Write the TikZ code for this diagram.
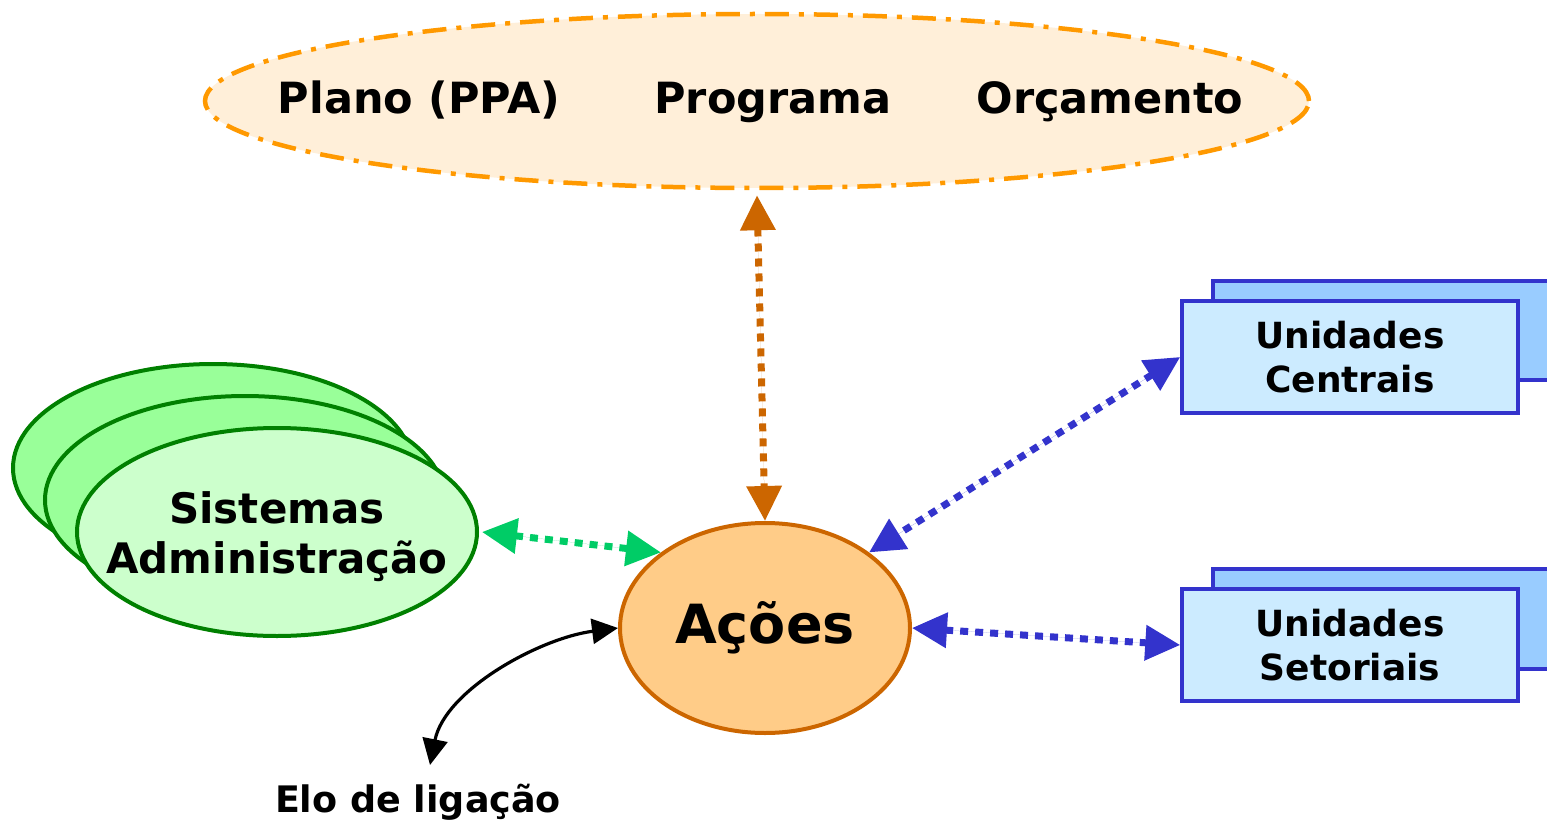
\documentclass[tikz,border=0pt]{standalone}
\usepackage{fontspec}
\setmainfont{DejaVu Sans}
\usetikzlibrary{shapes.geometric,arrows.meta}
\definecolor{ppaorange}{HTML}{FF9900}
\definecolor{ppafill}{HTML}{FFEFD9}
\definecolor{acoesfill}{HTML}{FFCC88}
\definecolor{acoesline}{HTML}{CC6600}
\definecolor{sisline}{HTML}{008000}
\definecolor{sisback}{HTML}{99FF99}
\definecolor{sisfront}{HTML}{CCFFCC}
\definecolor{sisarrow}{HTML}{00CC66}
\definecolor{ublue}{HTML}{3333CC}
\definecolor{ufront}{HTML}{CCEBFF}
\definecolor{ubackfill}{HTML}{99CCFF}
\begin{document}
\begin{tikzpicture}[x=1pt,y=-1pt,
  topell/.style={ellipse, draw=ppaorange, fill=ppafill, line width=4.5pt,
    dash pattern=on 24pt off 10pt on 5pt off 10pt,
    minimum width=1104pt, minimum height=174pt, inner sep=0pt},
  toptxt/.style={anchor=base, font=\fontsize{43}{50}\selectfont\bfseries},
  sisell/.style={ellipse, draw=sisline, line width=4pt,
    minimum width=400pt, minimum height=208pt, inner sep=0pt},
  sistxt/.style={align=center, font=\fontsize{42}{50}\selectfont\bfseries},
  acoesell/.style={ellipse, draw=acoesline, fill=acoesfill, line width=4pt,
    minimum width=290pt, minimum height=210pt, inner sep=0pt,
    font=\fontsize{54}{60}\selectfont\bfseries},
  ubox/.style={rectangle, draw=ublue, fill=ufront, line width=3.5pt,
    minimum width=336pt, minimum height=112pt, inner sep=0pt, align=center,
    font=\fontsize{36}{44}\selectfont\bfseries},
  ubackbox/.style={rectangle, draw=ublue, fill=ubackfill, line width=3.5pt,
    minimum width=400pt, inner sep=0pt},
  dotarrow/.style={line width=7pt, dash pattern=on 8pt off 7pt,
    {Triangle[length=35pt,width=34pt]}-{Triangle[length=35pt,width=34pt]}},
  elotxt/.style={anchor=base, font=\fontsize{36.5}{42}\selectfont\bfseries}
]
\useasboundingbox (0,0) rectangle (1547,821);
\clip (0,0) rectangle (1547,821);

% top ellipse
\node[topell] (ppa) at (757,101) {};
\node[toptxt] (plano) at (419,114) {Plano (PPA)};
\node[toptxt] (programa) at (773,114) {Programa};
\node[toptxt] (orc) at (1110,114) {Orçamento};

% sistemas
\node[sisell, fill=sisback] (sis3) at (213,468) {};
\node[sisell, fill=sisback] (sis2) at (245,500) {};
\node[sisell, fill=sisfront] (sis) at (277,532) {};
\node[sistxt] (sislabel) at (277,537) {Sistemas\\Administração};

% acoes
\node[acoesell] (acoes) at (765,628) {Ações};

% unidades
\node[ubackbox, minimum height=99pt] (cenback) at (1413,330.5) {};
\node[ubox] (cen) at (1350,357) {Unidades\\Centrais};
\node[ubackbox, minimum height=100pt] (setback) at (1413,619) {};
\node[ubox] (set) at (1350,645) {Unidades\\Setoriais};

% elo
\node[elotxt] (elo) at (418,812) {Elo de ligação};
\coordinate (eloarr) at (430,765);

% connectors
\draw[dotarrow, draw=acoesline, fill=acoesline] ([yshift=-5pt]ppa.south) -- (acoes.north);
\draw[dotarrow, draw=sisarrow, fill=sisarrow] ([xshift=3pt]sis.east) -- (acoes.144);
\draw[dotarrow, draw=ublue, fill=ublue] (cen.west) -- (acoes.36);
\draw[dotarrow, draw=ublue, fill=ublue] (acoes.east) -- (set.west);
\draw[line width=3.2pt, {Triangle[length=26pt,width=25pt]}-{Triangle[length=26pt,width=25pt]}]
  (acoes.west) .. controls (540,638) and (445,690) .. (eloarr);
\end{tikzpicture}
\end{document}
